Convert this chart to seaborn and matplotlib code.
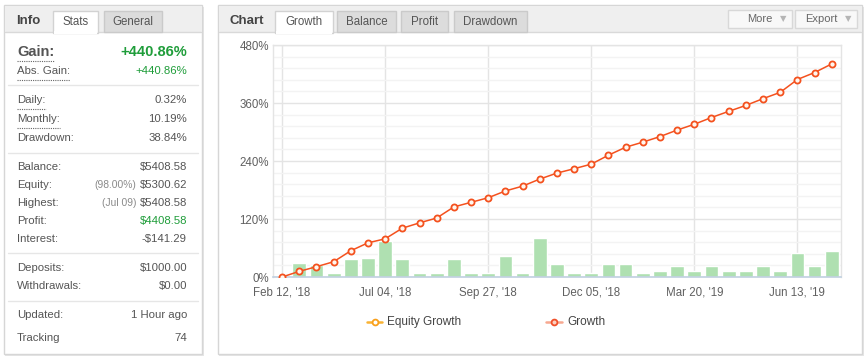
#!/usr/bin/env python3
# plot.py - account growth dashboard (stats panel + growth chart)

import matplotlib
matplotlib.use("Agg")
import pandas as pd
import seaborn as sns
import matplotlib.pyplot as plt
from matplotlib.patches import Rectangle
from matplotlib.ticker import MultipleLocator

# --- 1. Data ---
growth = [0, 11.7, 21.3, 31.6, 54.3, 70.7, 79, 101, 112, 122,
          145, 154.5, 164, 178, 188, 202.6, 215, 224, 233.5, 252,
          268.5, 279, 290.5, 304, 316, 330, 342.7, 355, 369, 382,
          408.6, 423, 440.86]
bars = [0, 28, 24.7, 7.5, 36.4, 38.5, 75, 36.4, 7.5, 7.5,
        36.4, 7.5, 7.5, 42.6, 7.5, 79.7, 26, 7.5, 7.5, 26,
        26, 7.5, 11.7, 23.4, 11.7, 23.4, 11.7, 11.7, 23.4, 11.7,
        48.8, 23.4, 53]
tick_idx = [0, 6, 12, 18, 24, 30]
tick_labels = ["Feb 12, '18", "Jul 04, '18", "Sep 27, '18",
               "Dec 05, '18", "Mar 20, '19", "Jun 13, '19"]
y_ticks = [0, 120, 240, 360, 480]

stat_groups = [
    [("Abs. Gain:", "+440.86%", None)],
    [("Daily:", "0.32%", None), ("Monthly:", "10.19%", None), ("Drawdown:", "38.84%", None)],
    [("Balance:", "$5408.58", None), ("Equity:", "$5300.62", "(98.00%)"),
     ("Highest:", "$5408.58", "(Jul 09)"), ("Profit:", "$4408.58", None),
     ("Interest:", "-$141.29", None)],
    [("Deposits:", "$1000.00", None), ("Withdrawals:", "$0.00", None)],
]
gain_value = "+440.86%"

df = pd.DataFrame({"idx": range(len(growth)), "growth": growth, "bar": bars})

# --- 2. Canvas ---
W, H = 865, 360
sns.set_theme(style="white")
plt.rcParams["font.family"] = ["Liberation Sans", "DejaVu Sans"]

fig = plt.figure(figsize=(W / 100, H / 100), dpi=100)
bg = fig.add_axes([0, 0, 1, 1])
bg.set_xlim(0, W)
bg.set_ylim(H, 0)
bg.axis("off")

GREEN = "#1f9d3a"
LBL = "#555555"


def rect(x0, y0, x1, y1, fc, ec="none", lw=1, z=1):
    bg.add_patch(Rectangle((x0, y0), x1 - x0, y1 - y0, fc=fc, ec=ec, lw=lw, zorder=z))


def panel(x0, y0, x1, y1, hb):
    rect(x0 + 1, y0 + 2, x1 + 2, y1 + 2, "#e6e6e6", z=0)
    rect(x0, y0, x1, y1, "white", "#d6d6d6", z=1)
    rect(x0 + 0.5, y0 + 0.5, x1 - 0.5, hb, "#efefef", z=2)
    bg.plot([x0 + 1, x1 - 1], [hb, hb], color="#d9d9d9", lw=1, zorder=3)


def tab(x0, x1, label, active):
    if active:
        rect(x0, 11, x1, hb_y + 1, "white", "#d2d2d2", z=4)
        rect(x0 + 0.8, hb_y - 1, x1 - 0.8, hb_y + 1.5, "white", z=5)
    else:
        rect(x0, 11, x1, hb_y, "#dcdcdc", "#cacaca", z=4)
    bg.text((x0 + x1) / 2, 22, label, ha="center", va="center",
            fontsize=8.3, color="#555555", zorder=6)


hb_y = 32
panel(4, 5, 202, 354, hb_y)
panel(218, 5, 862, 354, hb_y)

# --- 3. Left (Info) panel ---
bg.text(16, 21, "Info", fontsize=9.5, fontweight="bold", color="#444444", va="center", zorder=6)
tab(53, 98, "Stats", True)
tab(104, 162, "General", False)

renderer = fig.canvas.get_renderer()


def underline(t, y):
    bb = t.get_window_extent(renderer)
    x0 = bb.x0 * 100 / fig.dpi
    x1 = bb.x1 * 100 / fig.dpi
    bg.plot([x0, x1], [y, y], color="#666666", lw=0.8, ls=(0, (1, 1)), zorder=6)


t = bg.text(17, 52, "Gain:", fontsize=10.5, fontweight="bold", color=LBL, va="center")
underline(t, 61)
bg.text(187, 52, gain_value, fontsize=10.5, fontweight="bold", color=GREEN, va="center", ha="right")

rows_y = [[71], [100, 119, 138], [167, 185, 203, 221, 239], [268, 286]]
seps = [85, 153, 253, 301]
for grp, ys in zip(stat_groups, rows_y):
    for (lab, val, note), y in zip(grp, ys):
        t = bg.text(17, y, lab, fontsize=8.2, color=LBL, va="center")
        if lab in ("Abs. Gain:", "Daily:", "Monthly:"):
            underline(t, y + 9)
        col = GREEN if lab in ("Abs. Gain:", "Profit:") else LBL
        bg.text(187, y, val, fontsize=8.2, color=col, va="center", ha="right")
        if note:
            bg.text(136, y, note, fontsize=7.4, color="#8a8a8a", va="center", ha="right")
for y in seps:
    bg.plot([8, 198], [y, y], color="#e6e6e6", lw=1, zorder=3)

bg.text(17, 315, "Updated:", fontsize=8.2, color=LBL, va="center")
bg.text(187, 315, "1 Hour ago", fontsize=8.2, color=LBL, va="center", ha="right")
bg.text(17, 338, "Tracking", fontsize=8.2, color=LBL, va="center")
bg.text(187, 338, "74", fontsize=8.2, color=LBL, va="center", ha="right")

# --- 4. Right (Chart) panel header ---
bg.text(229, 21, "Chart", fontsize=9.5, fontweight="bold", color="#444444", va="center", zorder=6)
tab(275, 333, "Growth", True)
tab(337, 396, "Balance", False)
tab(401, 448, "Profit", False)
tab(454, 527, "Drawdown", False)
for x0, x1, lab in [(728, 792, "More"), (795, 857, "Export")]:
    rect(x0, 10, x1, 28, "#f8f8f8", "#d8d8d8", z=4)
    bg.text(x1 - 20, 19, lab, fontsize=8, color="#666666", va="center", ha="right", zorder=6)
    bg.text(x1 - 9, 19, "\u25bc", fontsize=6, color="#b5b5b5", va="center", ha="center",
            family="DejaVu Sans", zorder=6)

# --- 5. Chart ---
ax = fig.add_axes([273 / W, (H - 277) / H, 568 / W, 232 / H])
ax.set_facecolor("white")
sns.barplot(data=df, x="idx", y="bar", native_scale=True, color="#afe0b1",
            saturation=1, width=0.8, ax=ax, zorder=2)
sns.lineplot(data=df, x="idx", y="growth", ax=ax, color="#f4511e", lw=1.1,
             marker="o", markersize=4.4, markerfacecolor="#fff6ee",
             markeredgecolor="#f4511e", markeredgewidth=1.3, zorder=3)

ax.set_xlim(-0.53, 32.54)
ax.set_ylim(0, 480)
ax.set_xticks(tick_idx)
ax.set_xticklabels(tick_labels)
ax.set_yticks(y_ticks)
ax.set_yticklabels([f"{v}%" for v in y_ticks])
ax.yaxis.set_minor_locator(MultipleLocator(24))
ax.set_xlabel("")
ax.set_ylabel("")
ax.grid(which="major", color="#e4e4e4", lw=1)
ax.grid(which="minor", axis="y", color="#f3f3f3", lw=1)
ax.set_axisbelow(True)
ax.tick_params(which="both", length=0, labelsize=8.3, labelcolor="#606060")
ax.tick_params(axis="x", pad=7)
ax.tick_params(axis="y", pad=3)
for s in ("left", "top", "right"):
    ax.spines[s].set_color("#e4e4e4")
    ax.spines[s].set_linewidth(1)
ax.spines["bottom"].set_color("#c0d0e0")
ax.spines["bottom"].set_linewidth(1.2)

# --- 6. Legend ---
bg.plot([367, 382], [322, 322], color="#f9b233", lw=1.8, zorder=6)
bg.plot([374.5], [322], marker="o", ms=4.2, mfc="white", mec="#f9a01b", mew=1.3, zorder=7)
bg.text(387, 322, "Equity Growth", fontsize=8.5, color="#444444", va="center")
bg.plot([546, 562], [322, 322], color="#f7a890", lw=1.8, zorder=6)
bg.plot([554], [322], marker="o", ms=4.2, mfc="#fbd0c0", mec="#f0502a", mew=1.3, zorder=7)
bg.text(567, 322, "Growth", fontsize=8.5, color="#444444", va="center")

fig.savefig("out.png", dpi=100)
plt.close(fig)
